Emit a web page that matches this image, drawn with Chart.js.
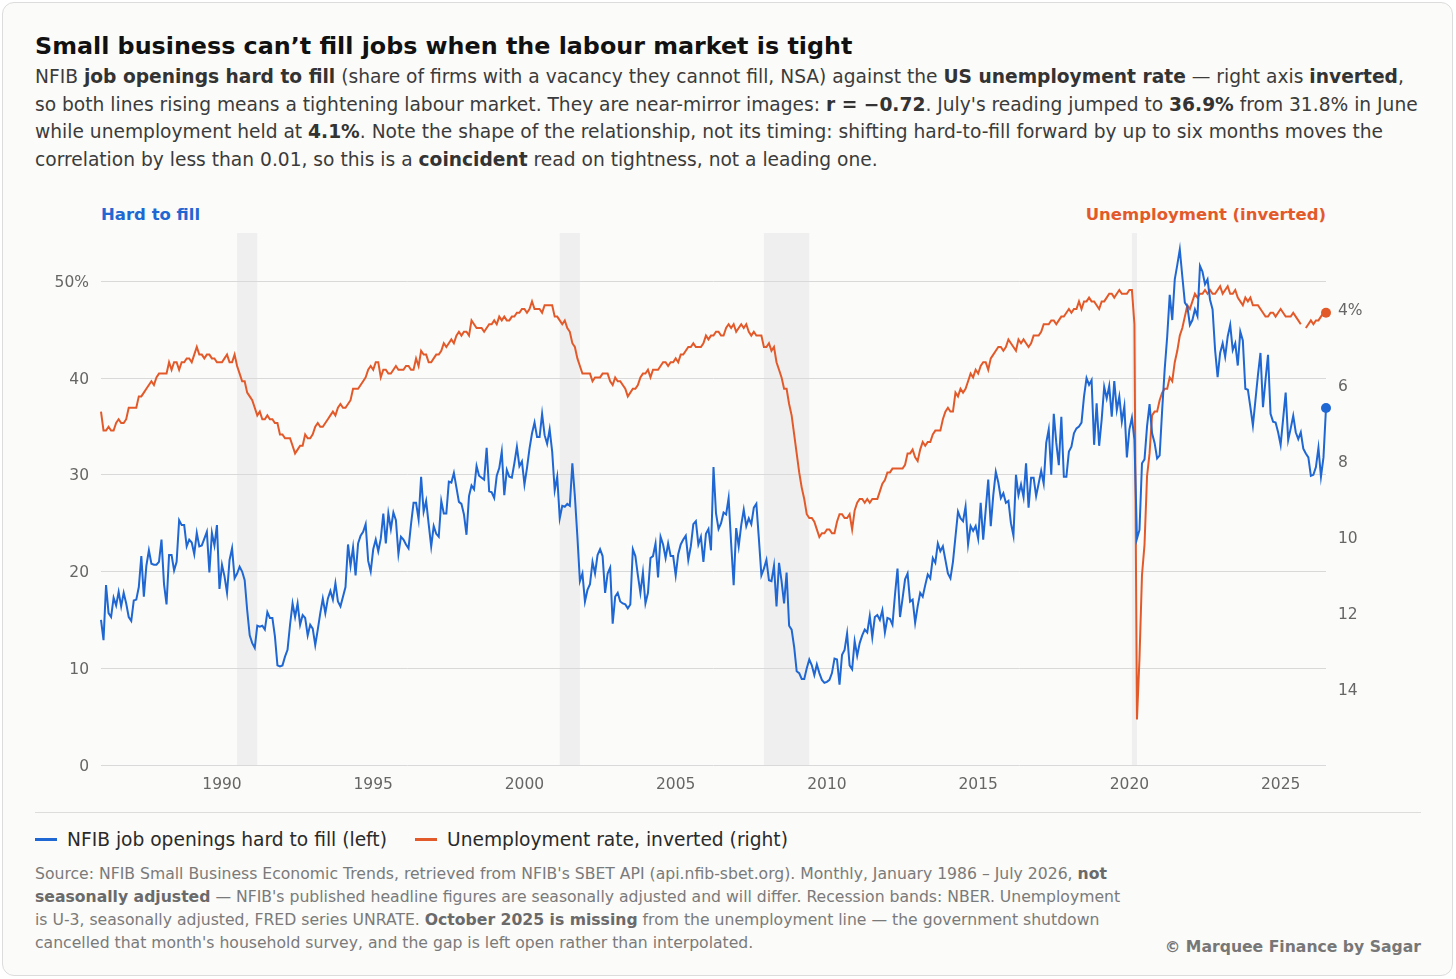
<!DOCTYPE html>
<html><head><meta charset="utf-8">
<script src="https://cdn.jsdelivr.net/npm/chart.js@4.4.1/dist/chart.umd.min.js"></script>
<style>
html,body{margin:0;padding:0;background:#ffffff;}
body{width:1456px;height:979px;position:relative;overflow:hidden;font-family:"DejaVu Sans",sans-serif;}
.card{position:absolute;left:2px;top:2px;width:1451px;height:974px;background:#fbfbf9;border:1px solid #dcdcdc;border-radius:12px;box-sizing:border-box;}
.abs{position:absolute;white-space:nowrap;}
#title{left:35px;top:31px;font-size:23.8px;line-height:30px;font-weight:bold;color:#111;}
#sub{left:35px;top:63px;font-size:18.65px;line-height:27.7px;color:#3b3b3b;}
#sub b{color:#333;}
.axlab{top:205px;font-size:16.5px;line-height:20px;font-weight:bold;}
#labL{left:101px;color:#1f67d2;}
#labR{right:130px;color:#e35a2a;}
#sep{left:35px;top:812px;width:1386px;height:1px;background:#dddddd;}
.mk{position:absolute;top:838px;width:22px;height:3px;}
.lg{top:828px;font-size:18.65px;line-height:24px;color:#2a2a2a;}
#foot{left:35px;top:861.5px;font-size:15.65px;line-height:23.3px;color:#7a7a7a;}
#foot b{color:#6a6a6a;}
#copy{right:35px;top:937px;font-size:15.65px;line-height:20px;font-weight:bold;color:#777;}
#wrap{position:absolute;left:35px;top:195px;width:1386px;height:610px;}
</style></head>
<body>
<div class="card"></div>
<div id="title" class="abs">Small business can’t fill jobs when the labour market is tight</div>
<div id="sub" class="abs">NFIB <b>job openings hard to fill</b> (share of firms with a vacancy they cannot fill, NSA) against the <b>US unemployment rate</b> — right axis <b>inverted</b>,<br>so both lines rising means a tightening labour market. They are near-mirror images: <b>r = −0.72</b>. July's reading jumped to <b>36.9%</b> from 31.8% in June<br>while unemployment held at <b>4.1%</b>. Note the shape of the relationship, not its timing: shifting hard-to-fill forward by up to six months moves the<br>correlation by less than 0.01, so this is a <b>coincident</b> read on tightness, not a leading one.</div>
<div id="labL" class="abs axlab">Hard to fill</div>
<div id="labR" class="abs axlab">Unemployment (inverted)</div>
<div id="wrap"><canvas id="c"></canvas></div>
<div id="sep" class="abs"></div>
<div class="mk" style="left:35px;background:#1f67d2"></div>
<div class="abs lg" style="left:67px">NFIB job openings hard to fill (left)</div>
<div class="mk" style="left:415px;background:#e35a2a"></div>
<div class="abs lg" style="left:447px">Unemployment rate, inverted (right)</div>
<div id="foot" class="abs">Source: NFIB Small Business Economic Trends, retrieved from NFIB's SBET API (api.nfib-sbet.org). Monthly, January 1986 – July 2026, <b>not</b><br><b>seasonally adjusted</b> — NFIB's published headline figures are seasonally adjusted and will differ. Recession bands: NBER. Unemployment<br>is U-3, seasonally adjusted, FRED series UNRATE. <b>October 2025 is missing</b> from the unemployment line — the government shutdown<br>cancelled that month's household survey, and the gap is left open rather than interpolated.</div>
<div id="copy" class="abs">© Marquee Finance by Sagar</div>
<script>
// Monthly data, January 1986 – July 2026
const startYear = 1986;
const hardToFill = [
 15.0,12.9,18.6,15.7,15.3,17.3,16.5,17.9,16.4,17.8,16.7,15.3, // 1986
 14.9,17.0,17.1,18.4,21.6,17.4,20.6,22.2,20.8,20.7,20.7,21.0, // 1987
 23.3,18.7,16.6,21.7,21.7,20.1,21.0,25.3,24.8,24.8,22.6,23.3, // 1988
 23.0,21.8,24.0,22.6,22.7,23.4,24.1,19.9,24.0,22.7,24.8,18.2, // 1989
 20.7,19.5,17.8,21.2,22.4,19.3,19.8,20.5,20.0,19.1,16.0,13.4, // 1990
 12.6,12.1,14.4,14.3,14.4,14.0,15.8,15.2,15.2,13.3,10.3,10.2, // 1991
 10.3,11.2,11.9,14.5,16.7,15.3,16.7,14.5,15.5,15.2,13.4,14.5, // 1992
 14.1,12.4,14.0,15.7,17.2,15.7,17.2,18.0,17.1,18.8,16.9,16.4, // 1993
 17.4,18.4,22.8,20.6,22.5,19.6,22.9,23.7,24.1,24.9,21.1,20.0, // 1994
 22.3,23.3,22.1,23.4,26.0,22.9,26.0,24.4,26.1,25.3,21.8,23.6, // 1995
 23.3,22.8,22.4,24.9,27.1,27.1,25.4,29.8,26.2,27.3,24.9,22.6, // 1996
 24.7,23.9,23.6,27.3,26.0,26.0,29.3,29.2,30.2,28.7,27.2,27.0, // 1997
 25.9,23.8,27.8,28.9,28.5,30.9,29.9,29.7,29.5,32.8,28.3,28.2, // 1998
 27.6,29.9,30.7,32.4,27.9,30.5,29.8,29.7,31.2,32.9,30.9,31.4, // 1999
 29.0,30.7,32.7,34.3,35.4,33.9,33.9,36.3,34.1,33.2,34.7,32.4, // 2000
 28.4,29.8,25.5,26.8,26.7,27.0,26.8,31.2,27.8,23.6,19.0,19.8, // 2001
 16.9,18.1,18.7,21.0,19.8,21.7,22.3,21.6,17.8,19.8,20.4,14.6, // 2002
 17.4,17.8,16.9,16.7,16.6,16.2,16.6,22.3,21.6,19.6,17.8,19.9, // 2003
 16.7,17.8,21.4,21.6,22.9,19.4,23.6,22.8,21.4,22.9,21.6,21.6, // 2004
 19.6,21.8,22.8,23.3,23.7,21.2,22.6,24.9,25.2,22.8,23.6,21.0, // 2005
 23.9,24.4,22.2,30.8,26.0,24.4,25.0,26.1,25.9,27.6,22.9,18.6, // 2006
 24.5,22.6,24.8,26.4,24.7,25.5,24.9,26.6,27.0,23.4,19.6,20.3, // 2007
 21.2,19.1,19.0,20.6,16.4,20.9,19.0,16.7,19.9,14.4,14.0,12.2, // 2008
 9.7,9.5,8.9,8.9,10.0,10.9,10.3,9.3,10.4,9.5,8.8,8.5,        // 2009
 8.6,8.8,9.5,11.0,10.9,8.3,11.4,11.9,13.6,10.3,9.9,12.8,     // 2010
 11.3,12.6,13.4,14.0,13.7,15.4,13.2,15.3,15.5,15.0,16.0,13.7, // 2011
 15.2,15.1,14.5,17.6,20.3,15.3,17.2,19.2,19.8,16.9,17.1,14.7, // 2012
 16.4,17.8,17.4,18.6,19.7,19.3,21.4,20.9,22.9,22.1,22.6,21.2, // 2013
 19.8,19.3,21.0,23.6,26.2,25.5,25.2,26.7,22.8,24.7,24.2,24.7, // 2014
 23.4,27.1,23.3,26.4,29.5,24.7,27.9,30.3,29.2,27.6,28.1,27.1, // 2015
 27.3,25.0,23.7,30.0,27.9,29.0,27.7,31.2,26.6,29.7,29.7,27.8, // 2016
 29.1,30.4,29.1,33.3,34.7,30.0,36.3,33.3,31.0,36.0,29.8,29.8, // 2017
 32.4,32.9,34.3,34.8,35.0,35.4,38.1,40.0,39.3,39.8,33.1,37.4, // 2018
 33.0,35.7,39.1,37.9,39.2,36.0,39.7,36.7,38.1,35.5,37.1,31.8, // 2019
 34.7,35.9,33.6,23.4,24.3,31.2,31.6,35.0,37.3,34.3,33.3,31.7, // 2020
 32.0,36.7,40.9,44.3,48.6,46.0,50.2,51.7,53.3,50.5,47.8,47.4, // 2021
 45.5,46.0,47.1,46.4,51.6,51.0,49.7,50.2,48.1,47.1,42.9,40.1, // 2022
 42.6,43.6,42.2,44.3,45.5,42.9,43.6,41.3,44.8,43.9,38.9,38.8, // 2023
 37.0,35.1,37.7,40.3,42.6,37.0,39.8,42.4,36.3,35.5,35.4,34.4, // 2024
 33.1,35.8,38.5,33.6,34.8,36.1,34.4,33.7,34.4,32.7,32.2,31.8, // 2025
 29.9,30.0,30.8,32.8,29.8,31.8,36.9                           // 2026
];
const unemployment = [
 6.7,7.2,7.2,7.1,7.2,7.2,7.0,6.9,7.0,7.0,6.9,6.6, // 1986
 6.6,6.6,6.6,6.3,6.3,6.2,6.1,6.0,5.9,6.0,5.8,5.7, // 1987
 5.7,5.7,5.7,5.4,5.6,5.4,5.4,5.6,5.4,5.4,5.3,5.3, // 1988
 5.4,5.2,5.0,5.2,5.2,5.3,5.2,5.2,5.3,5.3,5.4,5.4, // 1989
 5.4,5.3,5.2,5.4,5.4,5.2,5.5,5.7,5.9,5.9,6.2,6.3, // 1990
 6.4,6.6,6.8,6.7,6.9,6.9,6.8,6.9,6.9,7.0,7.0,7.3, // 1991
 7.3,7.4,7.4,7.4,7.6,7.8,7.7,7.6,7.6,7.3,7.4,7.4, // 1992
 7.3,7.1,7.0,7.1,7.1,7.0,6.9,6.8,6.7,6.8,6.6,6.5, // 1993
 6.6,6.6,6.5,6.4,6.1,6.1,6.1,6.0,5.9,5.8,5.6,5.5, // 1994
 5.6,5.4,5.4,5.8,5.6,5.6,5.7,5.7,5.6,5.5,5.6,5.6, // 1995
 5.6,5.5,5.5,5.6,5.6,5.3,5.5,5.1,5.2,5.2,5.4,5.4, // 1996
 5.3,5.2,5.2,5.1,4.9,5.0,4.9,4.8,4.9,4.7,4.6,4.7, // 1997
 4.6,4.6,4.7,4.3,4.4,4.5,4.5,4.5,4.6,4.5,4.4,4.4, // 1998
 4.3,4.4,4.2,4.3,4.2,4.3,4.3,4.2,4.2,4.1,4.1,4.0, // 1999
 4.0,4.1,4.0,3.8,4.0,4.0,4.0,4.1,3.9,3.9,3.9,3.9, // 2000
 4.2,4.2,4.3,4.4,4.3,4.5,4.6,4.9,5.0,5.3,5.5,5.7, // 2001
 5.7,5.7,5.7,5.9,5.8,5.8,5.8,5.7,5.7,5.7,5.9,6.0, // 2002
 5.8,5.9,5.9,6.0,6.1,6.3,6.2,6.1,6.1,6.0,5.8,5.7, // 2003
 5.7,5.6,5.8,5.6,5.6,5.6,5.5,5.4,5.4,5.5,5.4,5.4, // 2004
 5.3,5.4,5.2,5.2,5.1,5.0,5.0,4.9,5.0,5.0,5.0,4.9, // 2005
 4.7,4.8,4.7,4.7,4.6,4.6,4.7,4.7,4.5,4.4,4.5,4.4, // 2006
 4.6,4.5,4.4,4.5,4.4,4.6,4.7,4.6,4.7,4.7,4.7,5.0, // 2007
 5.0,4.9,5.1,5.0,5.4,5.6,5.8,6.1,6.1,6.5,6.8,7.3, // 2008
 7.8,8.3,8.7,9.0,9.4,9.5,9.5,9.6,9.8,10.0,9.9,9.9, // 2009
 9.8,9.8,9.9,9.9,9.6,9.4,9.4,9.5,9.5,9.4,9.8,9.3, // 2010
 9.1,9.0,9.0,9.1,9.0,9.1,9.0,9.0,9.0,8.8,8.6,8.5, // 2011
 8.3,8.3,8.2,8.2,8.2,8.2,8.2,8.1,7.8,7.8,7.7,7.9, // 2012
 8.0,7.7,7.5,7.6,7.5,7.5,7.3,7.2,7.2,7.2,6.9,6.7, // 2013
 6.6,6.7,6.7,6.2,6.3,6.1,6.2,6.1,5.9,5.7,5.8,5.6, // 2014
 5.7,5.5,5.4,5.4,5.6,5.3,5.2,5.1,5.0,5.0,5.1,5.0, // 2015
 4.8,4.9,5.0,5.1,4.8,4.9,4.8,4.9,5.0,4.9,4.7,4.7, // 2016
 4.7,4.6,4.4,4.4,4.4,4.3,4.3,4.4,4.3,4.2,4.2,4.1, // 2017
 4.0,4.1,4.0,4.0,3.8,4.0,3.8,3.8,3.7,3.8,3.8,3.9, // 2018
 4.0,3.8,3.8,3.7,3.6,3.6,3.7,3.6,3.5,3.6,3.6,3.6, // 2019
 3.5,3.5,4.4,14.8,13.2,11.0,10.2,8.4,7.8,6.8,6.7,6.7, // 2020
 6.4,6.2,6.1,6.1,5.8,5.9,5.4,5.1,4.7,4.5,4.2,3.9, // 2021
 4.0,3.8,3.6,3.7,3.6,3.6,3.5,3.6,3.5,3.6,3.6,3.5, // 2022
 3.4,3.6,3.5,3.4,3.6,3.6,3.5,3.7,3.8,3.9,3.7,3.8, // 2023
 3.7,3.9,3.9,3.9,4.0,4.1,4.2,4.2,4.1,4.1,4.2,4.1, // 2024
 4.0,4.1,4.2,4.2,4.2,4.1,4.2,4.3,4.4,null,4.5,4.4, // 2025 (Oct missing)
 4.3,4.4,4.3,4.3,4.2,4.1,4.1                       // 2026
];
const xTickYears = [1990, 1995, 2000, 2005, 2010, 2015, 2020, 2025];
const leftTicks = [0, 10, 20, 30, 40, 50];
const rightTicks = [4, 6, 8, 10, 12, 14];
// NBER recessions: [year, month] start and end
const recessionStarts = [[1990,7],[2001,3],[2007,12],[2020,2]];
const recessionEnds   = [[1991,3],[2001,11],[2009,6],[2020,4]];

const BLUE = '#1f67d2', ORANGE = '#e35a2a';
const toX = i => startYear + i / 12;
const ym = ([y, m]) => y + (m - 1) / 12;
const blueData = hardToFill.map((v, i) => ({x: toX(i), y: v}));
const orangeData = unemployment.map((v, i) => ({x: toX(i), y: v}));

Chart.defaults.font.family = '"DejaVu Sans", sans-serif';
Chart.defaults.color = '#666';

const bands = {
  id: 'bands',
  beforeDraw(chart) {
    const {ctx, chartArea: a, scales: {x}} = chart;
    ctx.save();
    ctx.fillStyle = '#efefef';
    recessionStarts.forEach((s, k) => {
      const x1 = x.getPixelForValue(ym(s)), x2 = x.getPixelForValue(ym(recessionEnds[k]));
      ctx.fillRect(x1, a.top, x2 - x1, a.bottom - a.top);
    });
    ctx.restore();
  }
};
const lastR = n => ctx => ctx.dataIndex === n - 1 ? 5 : 0;

new Chart(document.getElementById('c'), {
  type: 'line',
  data: { datasets: [
    { label: 'NFIB job openings hard to fill (left)', data: blueData, yAxisID: 'y',
      borderColor: BLUE, backgroundColor: BLUE, borderWidth: 2, pointRadius: lastR(blueData.length),
      pointBackgroundColor: BLUE, pointBorderWidth: 0, tension: 0, clip: false },
    { label: 'Unemployment rate, inverted (right)', data: orangeData, yAxisID: 'y2',
      borderColor: ORANGE, backgroundColor: ORANGE, borderWidth: 2, pointRadius: lastR(orangeData.length),
      pointBackgroundColor: ORANGE, pointBorderWidth: 0, spanGaps: false, tension: 0, clip: false }
  ]},
  options: {
    responsive: true, maintainAspectRatio: false, animation: false,
    layout: { padding: { top: 38, left: 0, right: 0, bottom: 0 } },
    plugins: { legend: { display: false }, tooltip: { enabled: false } },
    scales: {
      x: { type: 'linear', min: 1986, max: 2026.5,
        afterBuildTicks: s => { s.ticks = xTickYears.map(v => ({value: v})); },
        afterFit: s => { s.height = 40; },
        grid: { display: false }, border: { display: false },
        ticks: { autoSkip: false, maxRotation: 0, padding: 3, color: '#666', font: { size: 15.5 }, callback: v => String(v) } },
      y: { position: 'left', min: 0, max: 55,
        afterBuildTicks: s => { s.ticks = leftTicks.map(v => ({value: v})); },
        afterFit: s => { s.width = 66; },
        grid: { color: '#d9d9d9', lineWidth: 1, drawTicks: false }, border: { display: false },
        ticks: { padding: 12, labelOffset: 1.5, color: '#666', font: { size: 15.5 }, callback: v => v === 50 ? '50%' : String(v) } },
      y2: { position: 'right', reverse: true, min: 2, max: 16,
        afterBuildTicks: s => { s.ticks = rightTicks.map(v => ({value: v})); },
        afterFit: s => { s.width = 95; },
        grid: { display: false, drawTicks: false }, border: { display: false },
        ticks: { padding: 12, labelOffset: 1.5, color: '#666', font: { size: 15.5 }, callback: v => v === 4 ? '4%' : String(v) } }
    }
  },
  plugins: [bands]
});
</script>
</body></html>
